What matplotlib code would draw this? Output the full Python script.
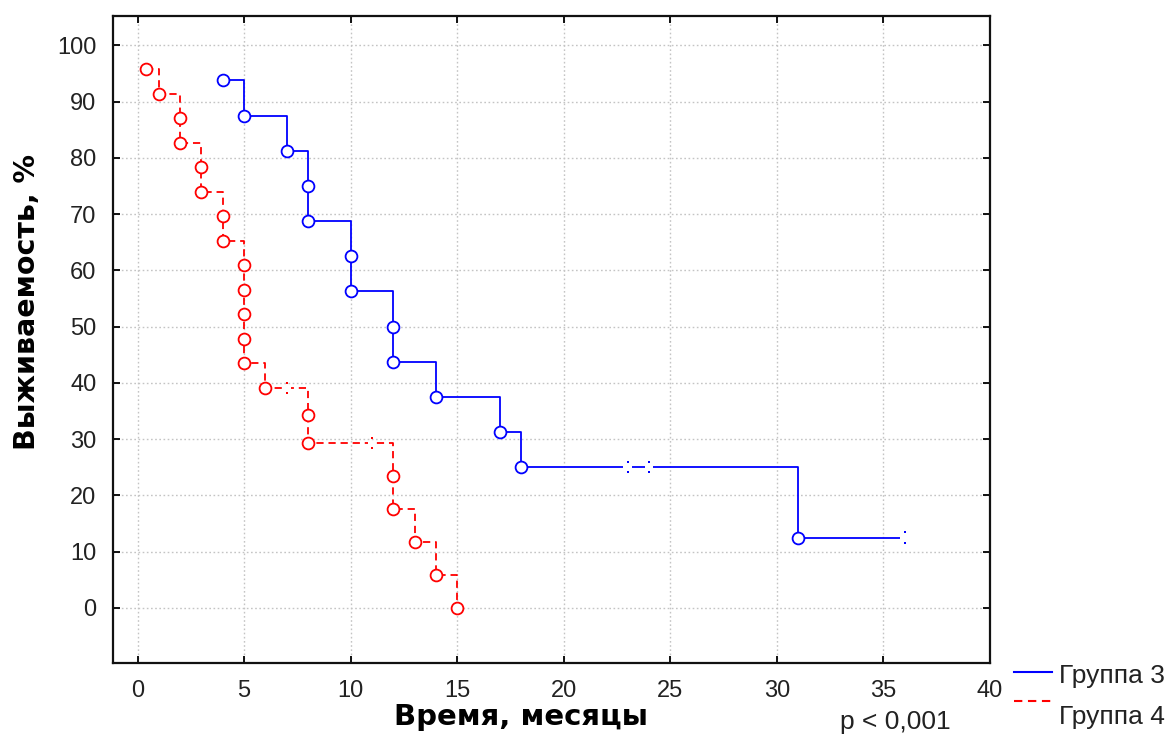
#!/usr/bin/env python3
"""Kaplan-Meier survival curves, groups 3 and 4 (Statistica look)."""

import matplotlib

matplotlib.use("Agg")
import matplotlib.pyplot as plt
from matplotlib.lines import Line2D

plt.rcParams["font.family"] = ["Liberation Sans", "DejaVu Sans"]

# ---------------------------------------------------------------------------
# Data (time in months, survival in %)
# ---------------------------------------------------------------------------
G3_TIMES = [4, 5, 7, 8, 8, 10, 10, 12, 12, 14, 17, 18, 31]
G3_SURV = [93.75, 87.5, 81.25, 75.0, 68.75, 62.5, 56.25, 50.0, 43.75,
           37.5, 31.25, 25.0, 12.5]
G3_CENS_T = [23, 24, 36]
G3_CENS_S = [25.0, 25.0, 12.5]

G4_TIMES = [0.4, 1, 2, 2, 3, 3, 4, 4, 5, 5, 5, 5, 5, 6, 8, 8,
            12, 12, 13, 14, 15]
G4_SURV = [95.7, 91.3, 87.0, 82.6, 78.3, 73.9, 69.6, 65.2, 60.9, 56.5,
           52.2, 47.8, 43.5, 39.1, 34.2, 29.3, 23.5, 17.6, 11.7, 5.9, 0.0]
G4_CENS_T = [7, 11]
G4_CENS_S = [39.1, 29.3]

X_TICKS = [0, 5, 10, 15, 20, 25, 30, 35, 40]
Y_TICKS = [0, 10, 20, 30, 40, 50, 60, 70, 80, 90, 100]

BLUE = "#0000ff"
RED = "#ff0000"
DASHES = (4.0, 2.7)
TEXT_COLOR = "#222222"
LABEL_FONT = ["DejaVu Sans"]


def km_path(times, surv, cens_t, cens_s):
    """Extend the step path to the last censored point if it is later."""
    xs, ys = list(times), list(surv)
    if cens_t and cens_t[-1] > xs[-1]:
        xs.append(cens_t[-1])
        ys.append(cens_s[-1])
    return xs, ys


def draw_group(ax, times, surv, cens_t, cens_s, color, dashed):
    xs, ys = km_path(times, surv, cens_t, cens_s)
    line_kw = dict(color=color, linewidth=1.3, drawstyle="steps-post", zorder=3)
    if dashed:
        line_kw["dashes"] = DASHES
    ax.plot(xs, ys, **line_kw)
    ax.plot(times, surv, linestyle="none", marker="o", markersize=8.5,
            markerfacecolor="white", markeredgecolor=color,
            markeredgewidth=1.3, zorder=4)
    # censoring marks: small gap in the line with dots above and below
    for t, s in zip(cens_t, cens_s):
        ax.plot([t - 0.2, t + 0.2], [s, s], color="white", linewidth=3,
                solid_capstyle="butt", zorder=5)
        ax.plot([t, t], [s - 0.9, s + 0.9], linestyle="none", marker="s",
                markersize=1.8, color=color, markeredgewidth=0, zorder=6)


fig = plt.figure(figsize=(11.71, 7.35), dpi=100)
ax = fig.add_axes([0.0965, 0.098, 0.7489, 0.8802])

draw_group(ax, G3_TIMES, G3_SURV, G3_CENS_T, G3_CENS_S, BLUE, dashed=False)
draw_group(ax, G4_TIMES, G4_SURV, G4_CENS_T, G4_CENS_S, RED, dashed=True)

ax.set_xlim(-1.15, 40)
ax.set_ylim(-9.8, 105.2)
ax.set_xticks(X_TICKS)
ax.set_yticks(Y_TICKS)
ax.tick_params(direction="in", length=5, width=1.3, top=True, right=True,
               labeltop=False, labelright=False, labelsize=17,
               labelcolor=TEXT_COLOR, pad=12)
ax.grid(True, color="#c4c4c4", linestyle=(0, (1.2, 1.8)), linewidth=1.0)
ax.set_axisbelow(True)
for spine in ax.spines.values():
    spine.set_linewidth(1.6)
    spine.set_color("#111111")

# axis titles placed by hand (x title sits left of the axis centre)
fig.text(521 / 1171, 1 - 717 / 735, "Время, месяцы", family=LABEL_FONT,
         fontsize=21, fontweight="bold", ha="center", va="center")
fig.text(27 / 1171, 1 - 302 / 735, "Выживаемость, %", family=LABEL_FONT,
         fontsize=20.5, fontweight="bold", ha="center", va="center",
         rotation=90)

# legend placed by hand at the bottom right, outside the axes
fig.add_artist(Line2D([1014 / 1171, 1052 / 1171], [1 - 672 / 735] * 2,
                      color=BLUE, linewidth=1.5))
fig.add_artist(Line2D([1014 / 1171, 1052 / 1171], [1 - 701 / 735] * 2,
                      color=RED, linewidth=1.5, dashes=DASHES))
fig.text(1059 / 1171, 1 - 676 / 735, "Группа 3", fontsize=19,
         color=TEXT_COLOR, va="center", ha="left")
fig.text(1059 / 1171, 1 - 717 / 735, "Группа 4", fontsize=19,
         color=TEXT_COLOR, va="center", ha="left")
fig.text(895 / 1171, 1 - 722 / 735, "p < 0,001", fontsize=19,
         color=TEXT_COLOR, va="center", ha="center")

fig.savefig("out.png", dpi=100)
